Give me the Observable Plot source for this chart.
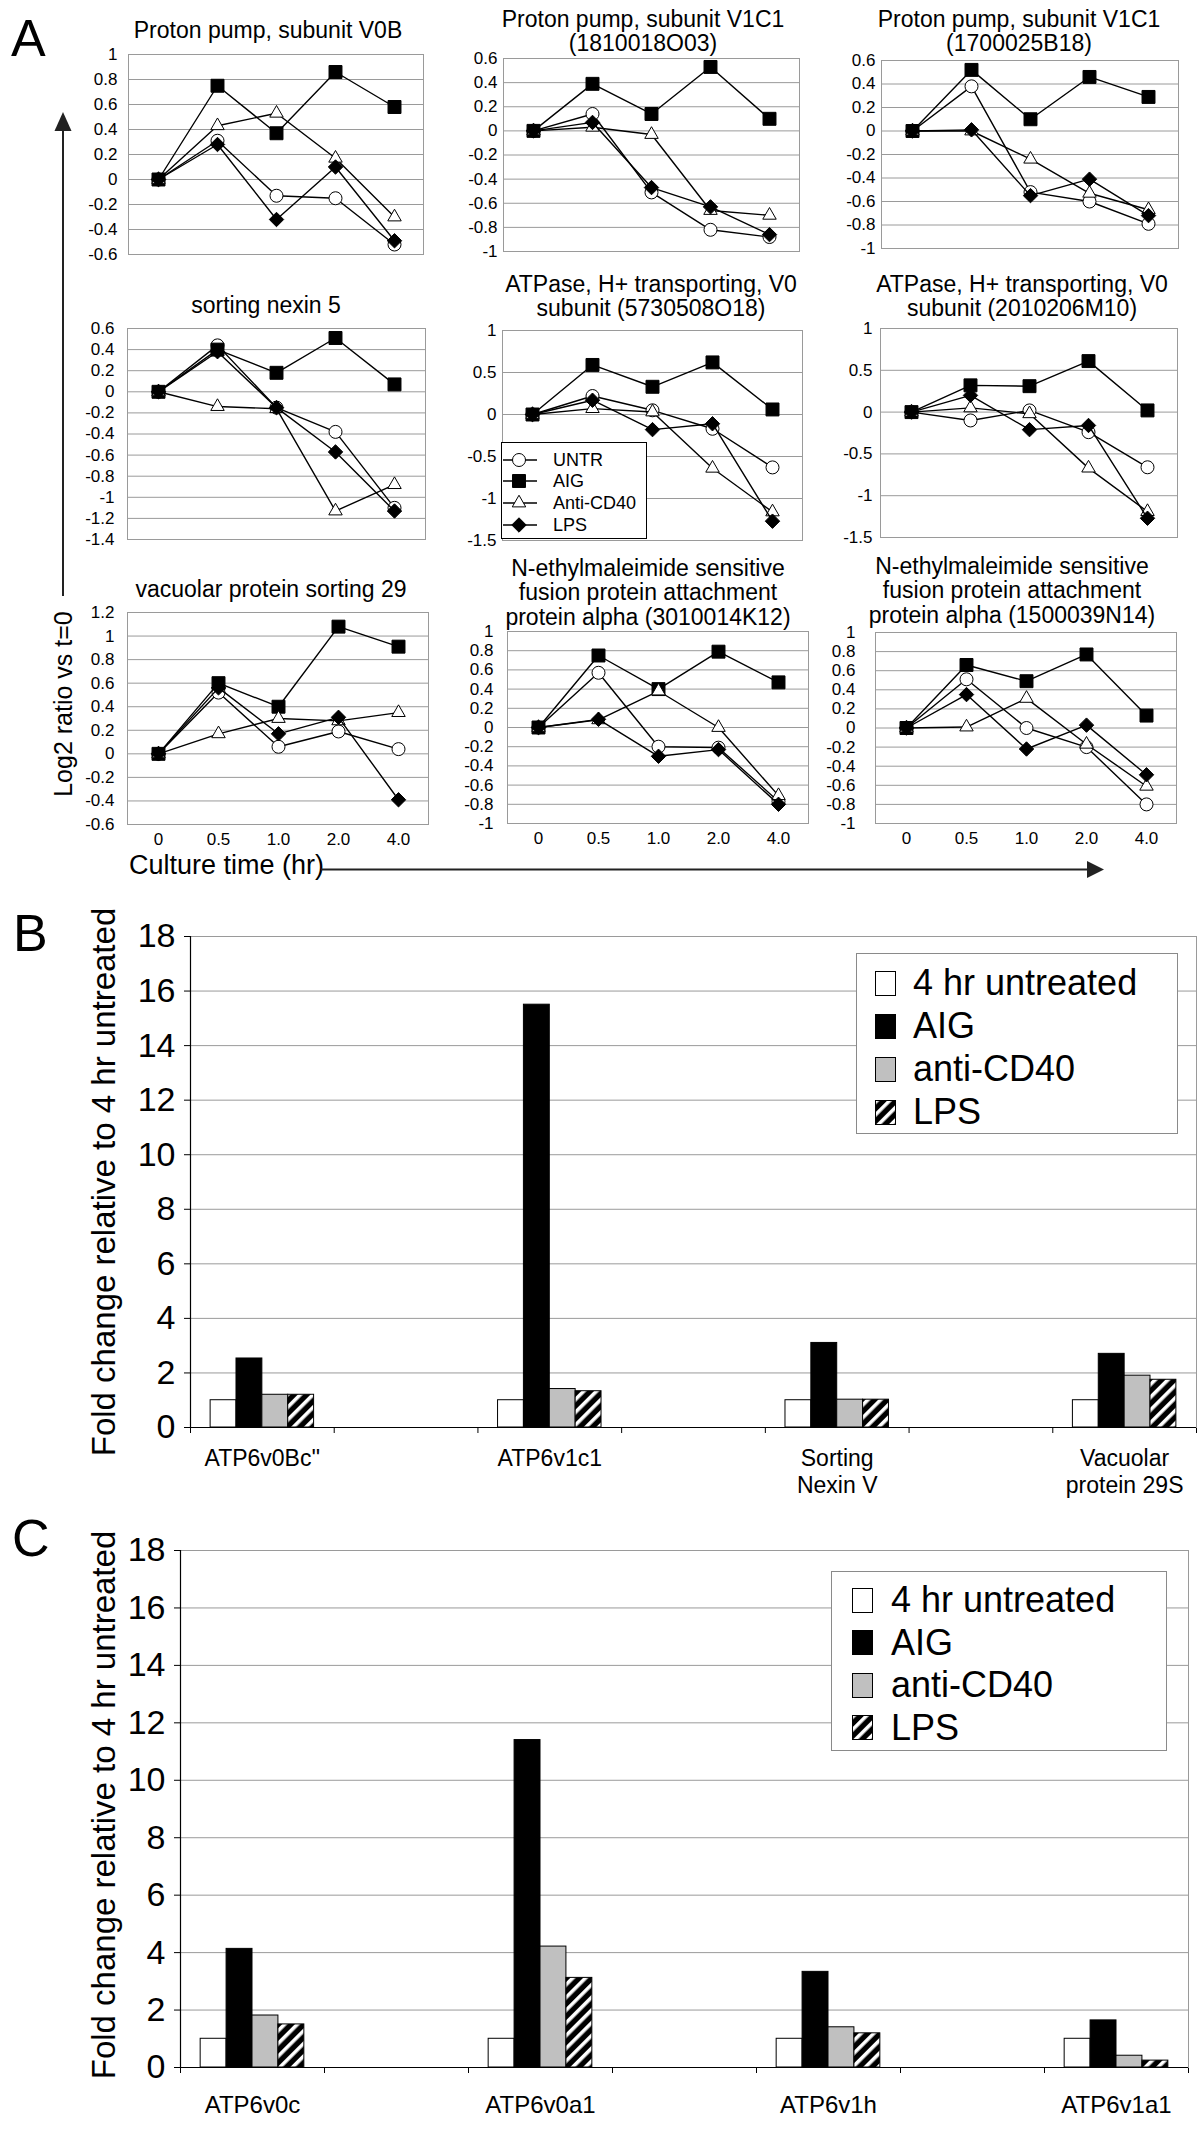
<!DOCTYPE html>
<html>
<head>
<meta charset="utf-8">
<script src="https://cdn.jsdelivr.net/npm/d3@7"></script>
<script src="https://cdn.jsdelivr.net/npm/@observablehq/plot@0.6"></script>
<style>
html,body{margin:0;padding:0;background:#fff;}
#fig{position:relative;width:1200px;height:2133px;overflow:hidden;background:#fff;font-family:"Liberation Sans",Arial,Helvetica,sans-serif;color:#000;}
#fig svg{position:absolute;}
.t{position:absolute;white-space:pre;text-align:center;}
</style>
</head>
<body>
<div id="fig"></div>
<script>
// ---------------- DATA: panel A ----------------
const times = ["0", "0.5", "1.0", "2.0", "4.0"];
const seriesNames = ["UNTR", "AIG", "Anti-CD40", "LPS"];
const titles = [
  "Proton pump, subunit V0B",
  "Proton pump, subunit V1C1\n(1810018O03)",
  "Proton pump, subunit V1C1\n(1700025B18)",
  "sorting nexin 5",
  "ATPase, H+ transporting, V0\nsubunit (5730508O18)",
  "ATPase, H+ transporting, V0\nsubunit (2010206M10)",
  "vacuolar protein sorting 29",
  "N-ethylmaleimide sensitive\nfusion protein attachment\nprotein alpha (3010014K12)",
  "N-ethylmaleimide sensitive\nfusion protein attachment\nprotein alpha (1500039N14)"
];
const untrValues = [
  [0, 0.31, -0.13, -0.15, -0.52],
  [0, 0.14, -0.51, -0.82, -0.88],
  [0, 0.38, -0.52, -0.60, -0.79],
  [0, 0.44, -0.15, -0.38, -1.10],
  [0, 0.22, 0.05, -0.17, -0.63],
  [0, -0.10, 0.02, -0.24, -0.66],
  [0, 0.52, 0.06, 0.19, 0.04],
  [0, 0.57, -0.20, -0.21, -0.77],
  [0, 0.51, 0.00, -0.20, -0.80]
];
const aigValues = [
  [0, 0.75, 0.37, 0.86, 0.58],
  [0, 0.39, 0.14, 0.53, 0.10],
  [0, 0.52, 0.10, 0.46, 0.29],
  [0, 0.40, 0.18, 0.51, 0.07],
  [0, 0.59, 0.33, 0.62, 0.06],
  [0, 0.32, 0.31, 0.61, 0.02],
  [0, 0.60, 0.40, 1.08, 0.91],
  [0, 0.75, 0.40, 0.79, 0.47],
  [0, 0.66, 0.49, 0.77, 0.13]
];
const cd40Values = [
  [0, 0.43, 0.53, 0.17, -0.30],
  [0, 0.03, -0.03, -0.66, -0.70],
  [0, 0.00, -0.24, -0.53, -0.67],
  [0, -0.14, -0.16, -1.13, -0.88],
  [0, 0.07, 0.03, -0.64, -1.16],
  [0, 0.05, -0.02, -0.67, -1.19],
  [0, 0.17, 0.30, 0.28, 0.35],
  [0, 0.08, 0.38, 0.00, -0.71],
  [0, 0.01, 0.31, -0.17, -0.61]
];
const lpsValues = [
  [0, 0.28, -0.32, 0.10, -0.49],
  [0, 0.07, -0.47, -0.63, -0.86],
  [0, 0.01, -0.55, -0.41, -0.72],
  [0, 0.38, -0.15, -0.57, -1.13],
  [0, 0.17, -0.18, -0.11, -1.27],
  [0, 0.20, -0.21, -0.16, -1.27],
  [0, 0.56, 0.17, 0.31, -0.39],
  [0, 0.085, -0.30, -0.23, -0.80],
  [0, 0.35, -0.22, 0.03, -0.49]
];
const yMin = [-0.6, -1, -1, -1.4, -1.5, -1.5, -0.6, -1, -1];
const yMax = [1, 0.6, 0.6, 0.6, 1, 1, 1.2, 1, 1];
const yStep = [0.2, 0.2, 0.2, 0.2, 0.5, 0.5, 0.2, 0.2, 0.2];

// ---------------- DATA: panels B and C ----------------
const barSeries = ["4 hr untreated", "AIG", "anti-CD40", "LPS"];
const bGenes = ["ATP6v0Bc''", "ATP6v1c1", "Sorting\nNexin V", "Vacuolar\nprotein 29S"];
const bUntreated = [1, 1, 1, 1];
const bAIG = [2.53, 15.5, 3.1, 2.7];
const bCD40 = [1.2, 1.41, 1.02, 1.9];
const bLPS = [1.2, 1.33, 1.02, 1.75];
const cGenes = ["ATP6v0c", "ATP6v0a1", "ATP6v1h", "ATP6v1a1"];
const cUntreated = [1, 1, 1, 1];
const cAIG = [4.13, 11.4, 3.33, 1.64];
const cCD40 = [1.81, 4.21, 1.4, 0.41];
const cLPS = [1.5, 3.12, 1.19, 0.24];
const barTicks = [0, 2, 4, 6, 8, 10, 12, 14, 16, 18];

// ---------------- LAYOUT / STYLE ----------------
const FONT = '"Liberation Sans", Arial, Helvetica, sans-serif';
const boxes = [ // plot areas [left, top, right, bottom]
  [128, 54, 423, 254], [503, 58, 799, 251], [881, 60, 1178, 248],
  [127, 328, 425, 539], [502, 330, 802, 540], [880, 328, 1177, 537],
  [127, 612, 428, 824], [507, 631, 808, 823], [875, 632, 1176, 823]
];
const tickPads = [11, 6, 6, 13, 6, 8, 13, 14, 20];
const titleCx = [268, 643, 1019, 266, 651, 1022, 271, 648, 1012];
const titleBase = [38, 27, 27, 313, 292, 292, 597, 576, 574];
const symbols = ["circle", "square", "triangle", "diamond2"];
const radii = [6.5, 7.3, 5, 6.5];
const fills = ["white", "black", "white", "black"];
const barFills = ["white", "black", "#c0c0c0", "url(#hatch)"];
const GRID = "#9a9a9a";

const fig = document.getElementById("fig");
fig.insertAdjacentHTML("beforeend",
  `<svg width="0" height="0" style="left:0;top:0"><defs>
   <pattern id="hatch" patternUnits="userSpaceOnUse" width="9" height="9" patternTransform="rotate(45)">
   <rect width="9" height="9" fill="#000"/><rect width="3.6" height="9" fill="#fff"/></pattern></defs></svg>`);

function addText(txt, o) {
  const d = document.createElement("div");
  d.className = "t";
  d.textContent = txt;
  const s = o.size, lh = o.lh || s * 1.15;
  const w = o.width || 440;
  d.style.fontSize = s + "px";
  d.style.lineHeight = lh + "px";
  d.style.width = w + "px";
  if (o.align) d.style.textAlign = o.align;
  const baseOff = (lh - 1.117 * s) / 2 + 0.905 * s;
  const left = o.cx !== undefined ? o.cx - w / 2 : o.left;
  const top = o.baseline !== undefined ? o.baseline - baseOff : o.cy - lh / 2;
  d.style.left = left + "px";
  d.style.top = top + "px";
  if (o.rotate) d.style.transform = `rotate(${o.rotate}deg)`;
  fig.appendChild(d);
  return d;
}
const fmt = d => { const v = Math.round(d * 10) / 10; return String(v === 0 ? 0 : v); };

// ---------------- PANEL A: nine line charts ----------------
const allValues = [untrValues, aigValues, cd40Values, lpsValues];
function lineChart(i) {
  const [L, T, R, B] = boxes[i];
  const ml = 70, mr = 12, mt = 12, mb = i >= 6 ? 36 : 12;
  const n = Math.round((yMax[i] - yMin[i]) / yStep[i]);
  const ticks = d3.range(n + 1).map(k => +(yMin[i] + k * yStep[i]).toFixed(2));
  const rows = [];
  seriesNames.forEach((s, k) => times.forEach((t, j) =>
    rows.push({series: s, time: t, value: allValues[k][i][j]})));
  const marks = [
    Plot.ruleY(ticks, {stroke: GRID, strokeWidth: 1}),
    Plot.frame({stroke: GRID})
  ];
  seriesNames.forEach((s, k) => {
    const d = rows.filter(r => r.series === s);
    marks.push(Plot.line(d, {x: "time", y: "value", stroke: "black", strokeWidth: 1.4}));
    marks.push(Plot.dot(d, {x: "time", y: "value", symbol: () => symbols[k], r: radii[k],
      fill: fills[k], stroke: "black", strokeWidth: 1}));
  });
  const svg = Plot.plot({
    width: (R - L) + ml + mr, height: (B - T) + mt + mb,
    marginLeft: ml, marginRight: mr, marginTop: mt, marginBottom: mb,
    x: {type: "point", domain: times, padding: 0.5, axis: i >= 6 ? "bottom" : null,
        tickSize: 0, tickPadding: 8, label: null},
    y: {domain: [yMin[i], yMax[i]], ticks, tickFormat: fmt, tickSize: 0,
        tickPadding: tickPads[i], label: null},
    symbol: {type: "identity"},
    style: {fontFamily: FONT, fontSize: "17px", color: "black", background: "transparent", overflow: "visible"},
    marks
  });
  svg.style.left = (L - ml) + "px";
  svg.style.top = (T - mt) + "px";
  fig.appendChild(svg);
  addText(titles[i], {cx: titleCx[i], baseline: titleBase[i], size: 23, lh: 24.5, width: 430});
}
for (let i = 0; i < 9; i++) lineChart(i);

// legend of panel A (inside 5th chart)
(function () {
  const box = document.createElement("div");
  box.style.cssText = "position:absolute;left:501px;top:442px;width:146px;height:97px;border:1.5px solid #000;background:#fff;box-sizing:border-box;";
  fig.appendChild(box);
  const rowsY = [17, 38, 60, 82];
  const d3sym = {circle: d3.symbolCircle, square: d3.symbolSquare, triangle: d3.symbolTriangle, diamond2: d3.symbolDiamond2};
  seriesNames.forEach((s, k) => {
    const sv = d3.create("svg").attr("width", 34).attr("height", 20)
      .style("position", "absolute").style("left", "1px").style("top", (rowsY[k] - 10) + "px");
    sv.append("line").attr("x1", 0).attr("x2", 34).attr("y1", 10).attr("y2", 10).attr("stroke", "black").attr("stroke-width", 1.4);
    sv.append("path").attr("transform", "translate(16,10)")
      .attr("d", d3.symbol(d3sym[symbols[k]], radii[k] * radii[k] * Math.PI)())
      .attr("fill", fills[k]).attr("stroke", "black");
    box.appendChild(sv.node());
    const t = document.createElement("div");
    t.textContent = s;
    t.style.cssText = `position:absolute;left:51px;top:${rowsY[k] - 11}px;font-size:18px;line-height:22px;white-space:pre;`;
    box.appendChild(t);
  });
})();

// panel A axis titles and arrows
addText("Log2 ratio vs t=0", {cx: 63, cy: 704, size: 25, lh: 30, width: 260, rotate: -90});
addText("Culture time (hr)", {left: 129, cy: 865, size: 27, lh: 30, width: 220, align: "left"});
fig.insertAdjacentHTML("beforeend",
  `<svg width="1200" height="900" style="left:0;top:0;pointer-events:none">
   <line x1="63" y1="596" x2="63" y2="128" stroke="#222" stroke-width="2"/>
   <polygon points="54.5,131 71.5,131 63,112" fill="#222"/>
   <line x1="321" y1="869.5" x2="1090" y2="869.5" stroke="#222" stroke-width="2"/>
   <polygon points="1087,861 1087,878 1104,869.5" fill="#222"/>
   </svg>`);

// ---------------- PANELS B and C: grouped bar charts ----------------
function barChart(genes, series, L, T, R, B, labelDy, labelSize) {
  const rows = [];
  genes.forEach((g, gi) => barSeries.forEach((s, k) =>
    rows.push({gene: g, slot: gi * 2, series: s, value: series[k][gi]})));
  const sub = d3.scaleBand().domain(barSeries).range([0.14, 0.86]);
  const mt = 20, mb = 90;
  const svg = Plot.plot({
    width: 1200, height: (B - T) + mt + mb,
    marginLeft: L, marginRight: 1200 - R, marginTop: mt, marginBottom: mb,
    x: {domain: [0, 7], ticks: d3.range(0, 8), tickFormat: () => "", tickSize: 6, label: null},
    y: {domain: [0, 18], ticks: barTicks, tickFormat: d => String(d), tickSize: 6, tickPadding: 9, label: null},
    color: {type: "ordinal", domain: barSeries, range: barFills},
    style: {fontFamily: FONT, fontSize: "34px", color: "black", background: "transparent", overflow: "visible"},
    marks: [
      Plot.ruleY(barTicks, {stroke: GRID}),
      Plot.frame({stroke: GRID}),
      Plot.rect(rows, {
        x1: d => d.slot + sub(d.series),
        x2: d => d.slot + sub(d.series) + sub.bandwidth(),
        y1: 0, y2: "value", fill: "series", stroke: "black", strokeWidth: 1
      }),
      Plot.ruleX([0], {stroke: "black", strokeWidth: 1.2}),
      Plot.ruleY([0], {stroke: "black", strokeWidth: 1.2}),
      Plot.text(genes, {x: (d, i) => i * 2 + 0.5, frameAnchor: "bottom", dy: labelDy,
        lineAnchor: "top", text: d => d, fontSize: labelSize, lineHeight: 1.15})
    ]
  });
  svg.style.left = "0px";
  svg.style.top = (T - mt) + "px";
  fig.appendChild(svg);
}
barChart(bGenes, [bUntreated, bAIG, bCD40, bLPS], 190, 936, 1196, 1427, 20, 23);
barChart(cGenes, [cUntreated, cAIG, cCD40, cLPS], 180, 1550, 1188, 2067, 26, 24);

function barLegend(left, top, w, h, swL, txL, row0, gap) {
  const box = document.createElement("div");
  box.style.cssText = `position:absolute;left:${left}px;top:${top}px;width:${w}px;height:${h}px;border:1px solid #8a8a8a;background:#fff;box-sizing:border-box;`;
  fig.appendChild(box);
  barSeries.forEach((s, k) => {
    const cy = row0 + k * gap;
    const sv = d3.create("svg").attr("width", 21).attr("height", 25)
      .style("position", "absolute").style("left", swL + "px").style("top", (cy - 12.5) + "px");
    sv.append("rect").attr("x", 0.5).attr("y", 0.5).attr("width", 20).attr("height", 24)
      .attr("fill", barFills[k]).attr("stroke", "black");
    box.appendChild(sv.node());
    const t = document.createElement("div");
    t.textContent = s;
    t.style.cssText = `position:absolute;left:${txL}px;top:${cy - 21}px;font-size:36px;line-height:42px;white-space:pre;`;
    box.appendChild(t);
  });
}
barLegend(856, 953, 322, 181, 18, 56, 29, 43);
barLegend(831, 1571, 336, 180, 20, 59, 28, 42.5);

addText("Fold change relative to 4 hr untreated", {cx: 104, cy: 1182, size: 33, lh: 38, width: 640, rotate: -90});
addText("Fold change relative to 4 hr untreated", {cx: 104, cy: 1805, size: 33, lh: 38, width: 640, rotate: -90});

// panel letters
addText("A", {left: 11, baseline: 56, size: 52, lh: 56, width: 60, align: "left"});
addText("B", {left: 13, baseline: 951, size: 52, lh: 56, width: 60, align: "left"});
addText("C", {left: 12, baseline: 1556, size: 52, lh: 56, width: 60, align: "left"});
</script>
</body>
</html>
